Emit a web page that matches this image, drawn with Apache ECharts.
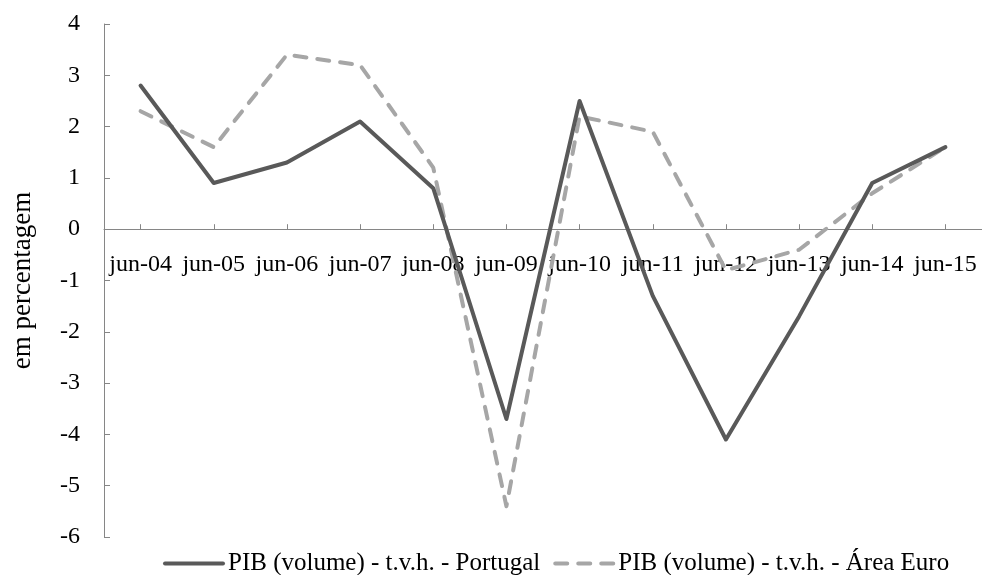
<!DOCTYPE html>
<html>
<head>
<meta charset="utf-8">
<script src="https://cdn.jsdelivr.net/npm/echarts@6/dist/echarts.min.js"></script>
<style>
  html, body { margin: 0; padding: 0; background: #ffffff; }
  #chart { width: 982px; height: 575px; }
</style>
</head>
<body>
<div id="chart"></div>
<script>
// Quarterly GDP growth, year-on-year change (%), June of each year
const categories = ['jun-04', 'jun-05', 'jun-06', 'jun-07', 'jun-08', 'jun-09',
                    'jun-10', 'jun-11', 'jun-12', 'jun-13', 'jun-14', 'jun-15'];
const portugal = [2.8, 0.9, 1.3, 2.1, 0.8, -3.7, 2.5, -1.3, -4.1, -1.7, 0.9, 1.6];
const areaEuro = [2.3, 1.6, 3.4, 3.2, 1.2, -5.4, 2.2, 1.9, -0.8, -0.4, 0.7, 1.6];
const seriesNames = ['PIB (volume) - t.v.h. - Portugal', 'PIB (volume) - t.v.h. - Área Euro'];
const yMin = -6, yMax = 4, yStep = 1;
const yTitle = 'em percentagem';

const FONT = 'Liberation Serif';
const W = 982, H = 575;
const GRID = { left: 104, right: 0, top: 24, bottom: 38 };
// the category axis sits on the zero line: shift it up from the grid bottom
const plotH = H - GRID.top - GRID.bottom;
const zeroShift = -plotH * (0 - yMin) / (yMax - yMin);

const chart = echarts.init(document.getElementById('chart'), null, { renderer: 'canvas' });

chart.setOption({
  animation: false,
  backgroundColor: '#ffffff',
  textStyle: { fontFamily: FONT, color: '#000000' },
  grid: Object.assign({ containLabel: false }, GRID),
  legend: {
    left: 158,
    top: 546,
    itemWidth: 58,
    itemHeight: 14,
    itemGap: 13,
    itemStyle: { opacity: 0 },
    lineStyle: { width: 4 },
    textStyle: { fontFamily: FONT, fontSize: 25, color: '#000000' },
    data: seriesNames
  },
  xAxis: {
    type: 'category',
    data: categories,
    boundaryGap: true,
    offset: zeroShift,
    z: 1,
    axisLine: { show: true, onZero: false, lineStyle: { color: '#868686', width: 1 } },
    axisTick: { show: true, inside: true, length: 5, alignWithLabel: true,
                lineStyle: { color: '#868686', width: 1 } },
    axisLabel: { interval: 0, margin: 24, fontFamily: FONT, fontSize: 24, color: '#000000' },
    splitLine: { show: false }
  },
  yAxis: {
    type: 'value',
    min: yMin,
    max: yMax,
    interval: yStep,
    name: yTitle,
    nameLocation: 'middle',
    nameRotate: 90,
    nameGap: 68,
    nameTextStyle: { fontFamily: FONT, fontSize: 27, color: '#000000' },
    axisLine: { show: true, lineStyle: { color: '#868686', width: 1 } },
    axisTick: { show: true, inside: true, length: 6, lineStyle: { color: '#868686', width: 1 } },
    axisLabel: { margin: 24, fontFamily: FONT, fontSize: 24, color: '#000000' },
    splitLine: { show: false }
  },
  series: [
    {
      name: seriesNames[0],
      type: 'line',
      data: portugal,
      symbol: 'none',
      lineStyle: { color: '#595959', width: 4, cap: 'round', join: 'round' },
      itemStyle: { color: '#595959' },
      z: 5
    },
    {
      name: seriesNames[1],
      type: 'line',
      data: areaEuro,
      symbol: 'none',
      lineStyle: { color: '#a6a6a6', width: 4, type: [12, 11], cap: 'round', join: 'round' },
      itemStyle: { color: '#a6a6a6' },
      z: 4
    }
  ]
});
</script>
</body>
</html>
